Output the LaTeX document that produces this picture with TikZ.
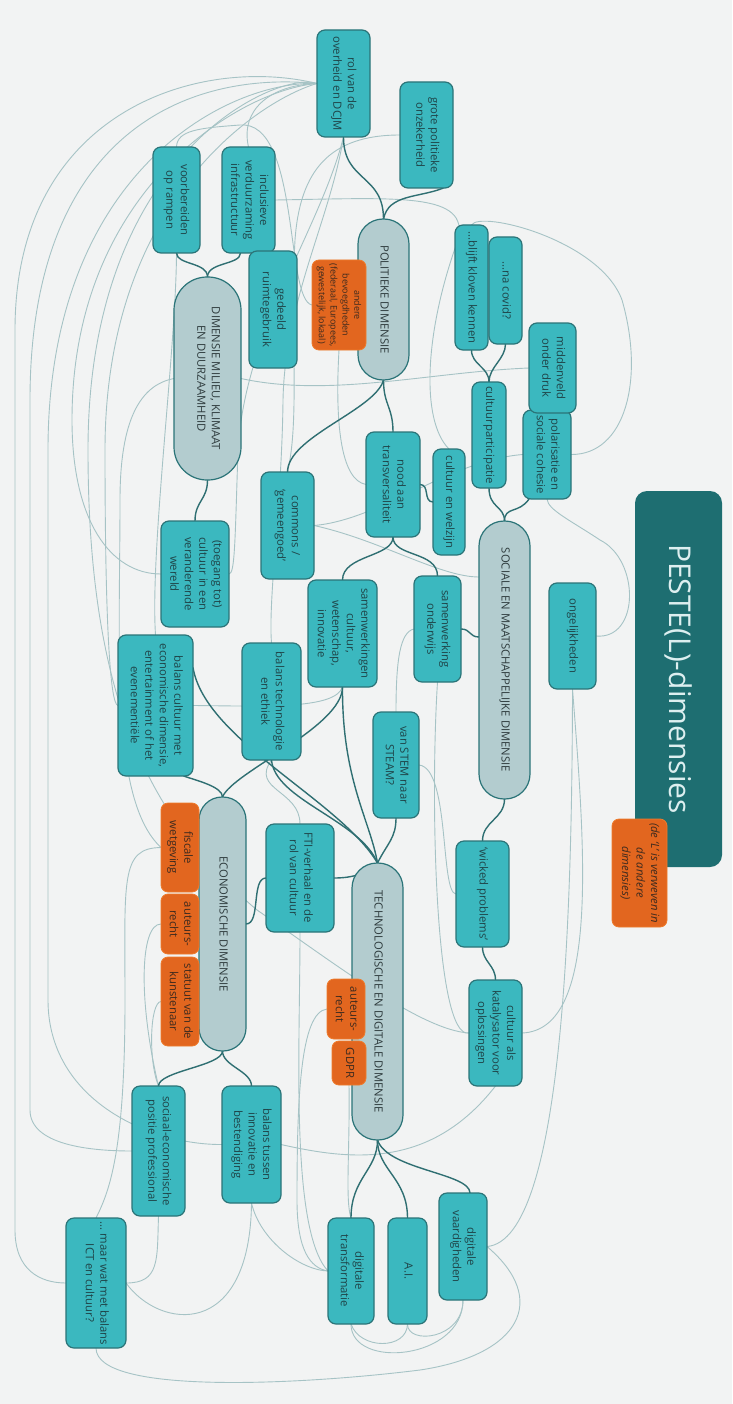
\documentclass[tikz,border=0pt]{standalone}
\usepackage{fontspec}
\setmainfont{Open Sans}
\usepackage{graphicx}
\usetikzlibrary{calc}
\definecolor{bgc}{HTML}{F2F3F3}
\definecolor{tealfill}{HTML}{3BB8BF}
\definecolor{tealdraw}{HTML}{2B7478}
\definecolor{tealtext}{HTML}{1F4448}
\definecolor{greyfill}{HTML}{B3CCCF}
\definecolor{greytext}{HTML}{2E3B3D}
\definecolor{orfill}{HTML}{E2661F}
\definecolor{ordraw}{HTML}{EE7B2C}
\definecolor{ortext}{HTML}{3D2A1E}
\definecolor{titlefill}{HTML}{1E6E71}
\definecolor{titletext}{HTML}{DDEFF0}
\definecolor{linkc}{HTML}{A6C3C5}
\definecolor{treec}{HTML}{2F6F72}
\newcommand\rt[1]{\rotatebox{-90}{\begin{tabular}{@{}c@{}}#1\end{tabular}}}
\newcommand\bodyfont{\fontsize{11.3}{14.5}\selectfont}
\newcommand\smallfontx{\fontsize{9}{11.8}\selectfont}
\newcommand\bx[7]{\node[#1,minimum width=#5pt,minimum height=#6pt] (#2) at (#3,#4) {\rt{#7}};}
\pgfdeclarelayer{bg}
\pgfsetlayers{bg,main}
\tikzset{
  base/.style={inner sep=0pt, outer sep=0pt, font=\bodyfont, align=center, rectangle},
  tnode/.style={base, rounded corners=8pt, fill=tealfill, draw=tealdraw, line width=1.2pt, text=tealtext},
  gnode/.style={base, rounded corners=25pt, fill=greyfill, draw=tealdraw, line width=1.2pt, text=greytext},
  onode/.style={base, rounded corners=7pt, fill=orfill, draw=ordraw, line width=0.8pt, text=ortext},
  xl/.style={draw=linkc, line width=0.9pt},
  tr/.style={draw=treec, line width=1.4pt},
}
\begin{document}
\begin{tikzpicture}[x=1pt,y=-1pt]
\useasboundingbox (0,0) rectangle (732,1404);
\begin{pgfonlayer}{bg}
\fill[bgc] (0,0) rectangle (732,1404);
\end{pgfonlayer}
% title
\node[base, rounded corners=12pt, fill=titlefill, text=titletext, minimum width=87pt, minimum height=376pt, font=\fontsize{30}{36}\selectfont] (title) at (678.5,679) {\rotatebox{-90}{PESTE(L)-dimensies}};
\bx{onode,font=\bodyfont\itshape}{note}{639.5}{873}{55}{108}{(de ‘L’ is verweven in\\de andere\\dimensies)}
% politiek
\bx{gnode}{pol}{383.5}{299.5}{51}{161}{POLITIEKE DIMENSIE}
\bx{onode,font=\smallfontx}{andere}{339}{305}{54}{90}{andere\\bevoegdheden\\(federaal, Europees,\\gewestelijk, lokaal)}
\bx{tnode}{rol}{343.5}{83.5}{53}{107}{rol van de\\overheid en DCJM}
\bx{tnode}{grote}{426.5}{135}{53}{106}{grote politieke\\onzekerheid}
% milieu
\bx{gnode,rounded corners=33pt}{mil}{207.5}{378.5}{67}{203}{DIMENSIE MILIEU, KLIMAAT\\EN DUURZAAMHEID}
\bx{tnode}{voor}{176.5}{200}{47}{106}{voorbereiden\\op rampen}
\bx{tnode}{incl}{248.5}{200}{53}{106}{inclusieve\\verduurzaming\\infrastructuur}
\bx{tnode}{ged}{273}{309.5}{48}{117}{gedeeld\\ruimtegebruik}
\bx{tnode}{toeg}{195}{574}{68}{106}{(toegang tot)\\cultuur in een\\veranderende\\wereld}
% sociaal
\bx{tnode}{blijft}{471.5}{287.5}{33}{125}{...blijft kloven kennen}
\bx{tnode}{covid}{505.5}{290.5}{33}{107}{...na covid?}
\bx{tnode}{polar}{547}{454.5}{48}{89}{polarisatie en\\sociale cohesie}
\bx{tnode}{mid}{552.5}{368}{47}{90}{middenveld\\onder druk}
\bx{tnode}{cpart}{489}{435}{34}{106}{cultuurparticipatie}
\bx{tnode}{nood}{393}{484.5}{54}{105}{nood aan\\transversaliteit}
\bx{tnode}{welz}{449}{502}{32}{106}{cultuur en welzijn}
\bx{tnode}{comm}{287.5}{525.5}{53}{107}{commons /\\‘gemeengoed’}
\bx{tnode}{samw}{342.5}{633.5}{69}{107}{samenwerkingen\\cultuur,\\wetenschap,\\innovatie}
\bx{tnode}{onder}{437.5}{629}{47}{106}{samenwerking\\onderwijs}
\bx{gnode}{soc}{504.5}{660}{51}{278}{SOCIALE EN MAATSCHAPPELIJKE DIMENSIE}
\bx{tnode}{ongel}{572.5}{636}{47}{106}{ongelijkheden}
% economisch
\bx{tnode}{bce}{155.5}{705.5}{75}{141}{balans cultuur met\\economische dimensie,\\entertainment of het\\evenementiële}
\bx{tnode}{bte}{271.5}{701.5}{59}{117}{balans technologie\\en ethiek}
\bx{tnode}{stem}{396}{765}{46}{106}{van STEM naar\\STEAM?}
\bx{gnode,rounded corners=23pt}{eco}{222.5}{924}{47}{254}{ECONOMISCHE DIMENSIE}
\bx{onode}{fisc}{180}{847.5}{38}{89}{fiscale\\wetgeving}
\bx{onode}{autA}{180}{924}{38}{60}{auteurs-\\recht}
\bx{onode}{stat}{180}{1001.5}{38}{89}{statuut van de\\kunstenaar}
\bx{tnode}{fti}{300}{878}{68}{108}{FTI-verhaal en de\\rol van cultuur}
% technologisch
\bx{gnode}{tech}{377.5}{1001.5}{51}{277}{TECHNOLOGISCHE EN DIGITALE DIMENSIE}
\bx{onode}{autB}{346}{1009}{38}{60}{auteurs-\\recht}
\bx{onode}{gdpr}{349}{1063}{34}{44}{GDPR}
\bx{tnode}{wick}{482.5}{894}{53}{106}{‘wicked problems’}
\bx{tnode}{kat}{495.5}{1033}{53}{106}{cultuur als\\katalysator voor\\oplossingen}
\bx{tnode}{socec}{158.5}{1151}{53}{130}{sociaal-economische\\positie professional}
\bx{tnode}{bti}{251.5}{1144.5}{59}{117}{balans tussen\\innovatie en\\bestendiging}
\bx{tnode}{maar}{96}{1283}{60}{130}{... maar wat met balans\\ICT en cultuur?}
\bx{tnode}{dtr}{351}{1271}{46}{106}{digitale\\transformatie}
\bx{tnode}{ai}{407.5}{1271}{39}{106}{A.I.}
\bx{tnode}{dvaard}{463}{1246.5}{48}{107}{digitale\\vaardigheden}

\begin{pgfonlayer}{bg}
% cross links
\draw[xl] (rol.west) .. controls (200,55) and (15,110) .. (15,330) -- (15,1230) .. controls (15,1270) and (40,1283) .. (maar.west);
\draw[xl] (rol.west) .. controls (180,70) and (30,140) .. (30,400) -- (30,1110) .. controls (30,1145) and (90,1151) .. (socec.west);
\draw[xl] (rol.west) .. controls (230,80) and (48,170) .. (48,450) -- (48,1000) .. controls (48,1100) and (150,1145) .. (bti.west);
\draw[xl] (rol.west) .. controls (240,90) and (72,190) .. (72,420) .. controls (72,520) and (110,574) .. (toeg.west);
\draw[xl] (rol.west) .. controls (260,100) and (105,200) .. (105,450) .. controls (105,620) and (110,705) .. (bce.west);
\draw[xl] (rol.west) .. controls (280,70) and (88,150) .. (88,450) .. controls (88,700) and (150,820) .. (257,910) .. controls (330,960) and (420,1030) .. (kat.west);
\draw[xl] (rol.west) .. controls (270,85) and (240,110) .. (incl.north);
\draw[xl] (rol.south) .. controls (330,220) and (285,300) .. (283,400) .. controls (282,500) and (268,600) .. (bte.north);
\draw[xl] (rol.south) .. controls (320,230) and (245,330) .. (238,450) .. controls (235,540) and (235,574) .. (toeg.east);
\draw[xl] (grote.west) .. controls (330,135) and (300,170) .. (295,240) .. controls (290,330) and (300,420) .. (comm.north);
\draw[xl] (incl.east) .. controls (400,198) and (470,192) .. (458,240) .. controls (425,330) and (420,420) .. (welz.north);
\draw[xl] (blijft.north) .. controls (480,210) and (600,240) .. (622,300) .. controls (645,380) and (625,455) .. (polar.east);
\draw[xl] (mid.west) .. controls (430,372) and (330,398) .. (mil.east);
\draw[xl] (polar.west) .. controls (450,460) and (380,520) .. (comm.east);
\draw[xl] (comm.east) .. controls (380,540) and (440,577) .. ([yshift=83pt]soc.west);
\draw[xl] (bce.east) .. controls (260,706) and (335,710) .. (samw.south);
\draw[xl] (stem.north) .. controls (396,660) and (400,632) .. (onder.west);
\draw[xl] (stem.east) .. controls (450,768) and (440,893) .. (wick.west);
\draw[xl] (onder.south) .. controls (430,800) and (435,1040) .. (kat.west);
\draw[xl] (ongel.south) .. controls (572,900) and (565,1240) .. (dvaard.east);
\draw[xl] (ongel.east) .. controls (640,640) and (640,560) .. (600,540) .. controls (570,520) and (548,510) .. (polar.south);
\draw[xl] (kat.east) .. controls (600,1030) and (585,850) .. (ongel.south);
\draw[xl] (bti.east) .. controls (350,1160) and (430,1170) .. (kat.south);
\draw[xl] (bti.south) .. controls (260,1240) and (300,1270) .. (dtr.west);
\draw[xl] (autB.west) .. controls (300,1012) and (297,1100) .. (297,1200) .. controls (297,1250) and (310,1268) .. (dtr.west);
\draw[xl] (fti.south) .. controls (300,1050) and (290,1230) .. (dtr.west);
\draw[xl] (gdpr.south) .. controls (350,1150) and (345,1200) .. (dtr.north);
\draw[xl] (dtr.south) .. controls (351,1370) and (463,1360) .. (dvaard.south);
\draw[xl] (ai.south) .. controls (407,1345) and (463,1340) .. (dvaard.south);
\draw[xl] (dtr.south) .. controls (360,1350) and (407,1350) .. (ai.south);
\draw[xl] (maar.east) .. controls (160,1283) and (157,1260) .. (socec.south);
\draw[xl] (maar.east) .. controls (160,1330) and (250,1340) .. (bti.south);
\draw[xl] (maar.south) .. controls (96,1395) and (300,1385) .. (420,1370) .. controls (520,1355) and (550,1300) .. (dvaard.east);
\draw[xl] (fisc.west) .. controls (120,848) and (125,880) .. (125,1000) .. controls (125,1150) and (110,1190) .. (maar.north);
\draw[xl] (autA.west) .. controls (140,924) and (138,1000) .. (socec.north);
\draw[xl] (stat.west) .. controls (150,1002) and (148,1060) .. (socec.north);
\draw[xl] (mil.west) .. controls (140,385) and (120,420) .. (120,500) .. controls (120,650) and (110,800) .. (fisc.west);
\draw[xl] (voor.south) .. controls (176,350) and (150,550) .. (bce.north);
\draw[xl] (bte.south) .. controls (250,790) and (300,790) .. (fti.north);
\draw[xl] (nood.west) .. controls (340,480) and (335,420) .. (andere.south);
\draw[xl] (andere.west) .. controls (285,300) and (300,120) .. (240,125) .. controls (200,128) and (177,130) .. (voor.north);
% tree edges
\draw[tr] (pol.north) .. controls +(0,-45) and +(0,45) .. (rol.south);
\draw[tr] (pol.north) .. controls +(5,-25) and +(-25,10) .. ([xshift=17pt]grote.south);
\draw[tr] (mil.north) .. controls +(0,-15) and +(0,12) .. (voor.south);
\draw[tr] (mil.north) .. controls +(0,-15) and +(0,12) .. ([xshift=-8pt]incl.south);
\draw[tr] (mil.south) .. controls +(0,20) and +(0,-20) .. (toeg.north);
\draw[tr] (pol.south) .. controls +(0,25) and +(0,-25) .. (nood.north);
\draw[tr] (pol.south) .. controls +(-8,30) and +(0,-35) .. (comm.north);
\draw[tr] (nood.south) .. controls +(0,20) and +(0,-25) .. (samw.north);
\draw[tr] (nood.south) .. controls +(0,20) and +(0,-25) .. (onder.north);
\draw[tr] (nood.east) .. controls +(10,0) and +(-10,0) .. (welz.west);
\draw[tr] (soc.north) .. controls +(0,-15) and +(0,20) .. (cpart.south);
\draw[tr] (soc.north) .. controls +(0,-15) and +(-10,15) .. ([xshift=-18pt]polar.south);
\draw[tr] (cpart.north) .. controls +(0,-15) and +(0,15) .. (blijft.south);
\draw[tr] (cpart.north) .. controls +(0,-15) and +(0,15) .. (covid.south);
\draw[tr] ([yshift=23pt]soc.west) .. controls +(-10,0) and +(10,0) .. (onder.east);
\draw[tr] (soc.south) .. controls +(0,20) and +(0,-20) .. (wick.north);
\draw[tr] (wick.south) .. controls +(0,15) and +(0,-15) .. (kat.north);
\draw[tr] (eco.north) .. controls +(0,-10) and +(15,5) .. ([xshift=28pt]bce.south);
\draw[tr] (eco.north) .. controls +(10,-25) and +(0,40) .. (samw.south);
\draw[tr] ([yshift=38pt]bce.east) .. controls (205,740) and (340,800) .. (tech.north);
\draw[tr] (bte.south) .. controls (275,800) and (360,820) .. (tech.north);
\draw[tr] (samw.south) .. controls (342,780) and (370,820) .. (tech.north);
\draw[tr] (stem.south) .. controls +(0,20) and +(10,-20) .. (tech.north);
\draw[tr] (fti.east) .. controls +(20,0) and +(-10,10) .. (tech.north);
\draw[tr] (eco.east) .. controls +(15,0) and +(-15,0) .. (fti.west);
\draw[tr] (eco.south) .. controls +(0,15) and +(0,-15) .. (socec.north);
\draw[tr] (eco.south) .. controls +(0,15) and +(0,-15) .. (bti.north);
\draw[tr] (tech.south) .. controls +(0,30) and +(0,-40) .. (dtr.north);
\draw[tr] (tech.south) .. controls +(0,30) and +(0,-40) .. (ai.north);
\draw[tr] (tech.south) .. controls +(10,30) and +(0,-20) .. ([xshift=7pt]dvaard.north);
\end{pgfonlayer}
\end{tikzpicture}
\end{document}
